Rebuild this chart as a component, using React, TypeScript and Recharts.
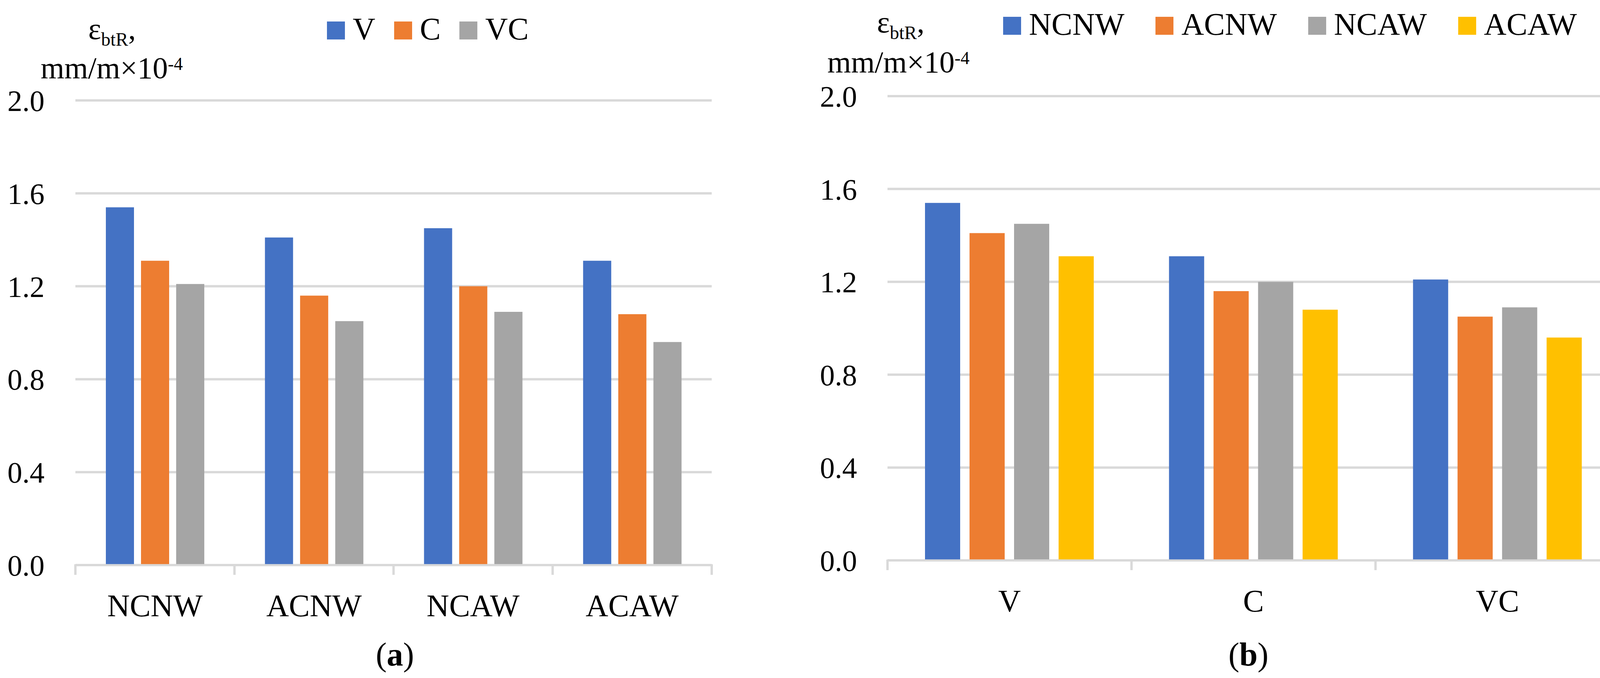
import React from 'react';
import { BarChart, Bar, XAxis, YAxis, CartesianGrid, Legend } from 'recharts';

const FONT = "'Liberation Serif', 'Times New Roman', serif";

// ---- panel (a) data ----
const groupsA = ['NCNW', 'ACNW', 'NCAW', 'ACAW'];
const seriesA = ['V', 'C', 'VC'];
const coloursA = ['#4472C4', '#ED7D31', '#A5A5A5'];
const valuesV = [1.54, 1.41, 1.45, 1.31];
const valuesC = [1.31, 1.16, 1.2, 1.08];
const valuesVC = [1.21, 1.05, 1.09, 0.96];

// ---- panel (b) data ----
const groupsB = ['V', 'C', 'VC'];
const seriesB = ['NCNW', 'ACNW', 'NCAW', 'ACAW'];
const coloursB = ['#4472C4', '#ED7D31', '#A5A5A5', '#FFC000'];
const valuesNCNW = [1.54, 1.31, 1.21];
const valuesACNW = [1.41, 1.16, 1.05];
const valuesNCAW = [1.45, 1.2, 1.09];
const valuesACAW = [1.31, 1.08, 0.96];

const yTicks = [0, 0.4, 0.8, 1.2, 1.6, 2.0];

const seriesValuesA = [valuesV, valuesC, valuesVC];
const seriesValuesB = [valuesNCNW, valuesACNW, valuesNCAW, valuesACAW];

const dataA = groupsA.map((g, i) => {
  const row: any = { name: g };
  seriesA.forEach((s, k) => (row[s] = seriesValuesA[k][i]));
  return row;
});
const dataB = groupsB.map((g, i) => {
  const row: any = { name: g };
  seriesB.forEach((s, k) => (row[s] = seriesValuesB[k][i]));
  return row;
});

const GRID = '#D9D9D9';

const makeXTick = (bw: number, n: number) => (props: any) => {
  const { x, y, payload, index } = props;
  const lines = [x - bw / 2];
  if (index === n - 1) lines.push(x + bw / 2);
  return (
    <g>
      {lines.map((lx, k) => (
        <line key={k} x1={lx} x2={lx} y1={y - 2} y2={y + 25} stroke={GRID} strokeWidth={6} />
      ))}
      <text x={x} y={y + 131} textAnchor="middle" fontSize={80} fontFamily={FONT} fill="#000">
        {payload.value}
      </text>
    </g>
  );
};

const makeLegend = (names: string[], colours: string[], gap: number) => () => (
  <div
    style={{
      fontFamily: FONT,
      fontSize: 80,
      lineHeight: '80px',
      whiteSpace: 'nowrap',
      color: '#000',
    }}
  >
    {names.map((n, i) => (
      <span key={n} style={{ marginRight: i < names.length - 1 ? gap : 0 }}>
        <span
          style={{
            display: 'inline-block',
            width: 46,
            height: 46,
            background: colours[i],
            marginRight: 20,
            verticalAlign: 'baseline',
          }}
        />
        <span>{n}</span>
      </span>
    ))}
  </div>
);

const fmt = (v: number) => v.toFixed(1);

function Panel(props: {
  data: any[];
  groups: string[];
  series: string[];
  colours: string[];
  width: number;
  top: number;
  right: number;
  bottom: number;
  yWidth: number;
  tickMargin: number;
  barSize: number;
  barGap: number;
  legendLeft: number;
  legendTop: number;
  legendGap: number;
}) {
  const plotWidth = props.width - props.yWidth - props.right;
  const bw = plotWidth / props.groups.length;
  return (
    <BarChart
      width={props.width}
      height={1735}
      data={props.data}
      margin={{ top: props.top, right: props.right, bottom: props.bottom, left: 0 }}
      barSize={props.barSize}
      barGap={props.barGap}
    >
      <CartesianGrid horizontal vertical={false} stroke={GRID} strokeWidth={6} />
      <XAxis
        dataKey="name"
        interval={0}
        height={150}
        tickLine={false}
        tickSize={0}
        tickMargin={0}
        axisLine={{ stroke: GRID, strokeWidth: 5 }}
        tick={makeXTick(bw, props.groups.length)}
      />
      <YAxis
        width={props.yWidth}
        domain={[0, 2]}
        ticks={yTicks}
        interval={0}
        tickFormatter={fmt}
        axisLine={false}
        tickLine={false}
        tickSize={0}
        tickMargin={props.tickMargin}
        tick={{ fill: '#000', fontSize: 76, fontFamily: FONT }}
      />
      <Legend
        layout="horizontal"
        verticalAlign="middle"
        align="center"
        wrapperStyle={{ left: props.legendLeft, top: props.legendTop, width: 'auto', height: 'auto' }}
        content={makeLegend(props.series, props.colours, props.legendGap)}
      />
      {props.series.map((s, i) => (
        <Bar key={s} dataKey={s} name={s} fill={props.colours[i]} isAnimationActive={false} />
      ))}
    </BarChart>
  );
}

export default function App() {
  return (
    <div
      style={{
        position: 'absolute',
        left: 0,
        top: 0,
        width: 4170,
        height: 1735,
        background: '#fff',
        overflow: 'hidden',
      }}
    >
      <div style={{ position: 'absolute', left: 0, top: 0 }}>
        <Panel
          data={dataA}
          groups={groupsA}
          series={seriesA}
          colours={coloursA}
          width={1900}
          top={257}
          right={78}
          bottom={139}
          yWidth={193}
          tickMargin={79}
          barSize={72}
          barGap={18}
          legendLeft={837}
          legendTop={34}
          legendGap={48}
        />
      </div>
      <div style={{ position: 'absolute', left: 2085, top: 0 }}>
        <Panel
          data={dataB}
          groups={groupsB}
          series={seriesB}
          colours={coloursB}
          width={2085}
          top={246}
          right={24}
          bottom={151}
          yWidth={187}
          tickMargin={78}
          barSize={90}
          barGap={24}
          legendLeft={483}
          legendTop={22}
          legendGap={80}
        />
      </div>
      <svg
        width={4170}
        height={1735}
        style={{ position: 'absolute', left: 0, top: 0, pointerEvents: 'none' }}
        fontFamily={FONT}
        fill="#000"
      >
        <text x={226} y={100} fontSize={78}>
          ε<tspan fontSize={48} dy={17}>btR</tspan>
          <tspan fontSize={78} dy={-17}>,</tspan>
        </text>
        <text x={104} y={200} fontSize={78}>
          mm/m×10<tspan fontSize={46} dy={-21}>-4</tspan>
        </text>
        <text x={2245} y={83} fontSize={78}>
          ε<tspan fontSize={48} dy={17}>btR</tspan>
          <tspan fontSize={78} dy={-17}>,</tspan>
        </text>
        <text x={2118} y={185} fontSize={78}>
          mm/m×10<tspan fontSize={46} dy={-21}>-4</tspan>
        </text>
        <text x={1011} y={1703} textAnchor="middle" fontSize={84}>
          (<tspan fontWeight="bold">a</tspan>)
        </text>
        <text x={3196} y={1703} textAnchor="middle" fontSize={84}>
          (<tspan fontWeight="bold">b</tspan>)
        </text>
      </svg>
    </div>
  );
}
